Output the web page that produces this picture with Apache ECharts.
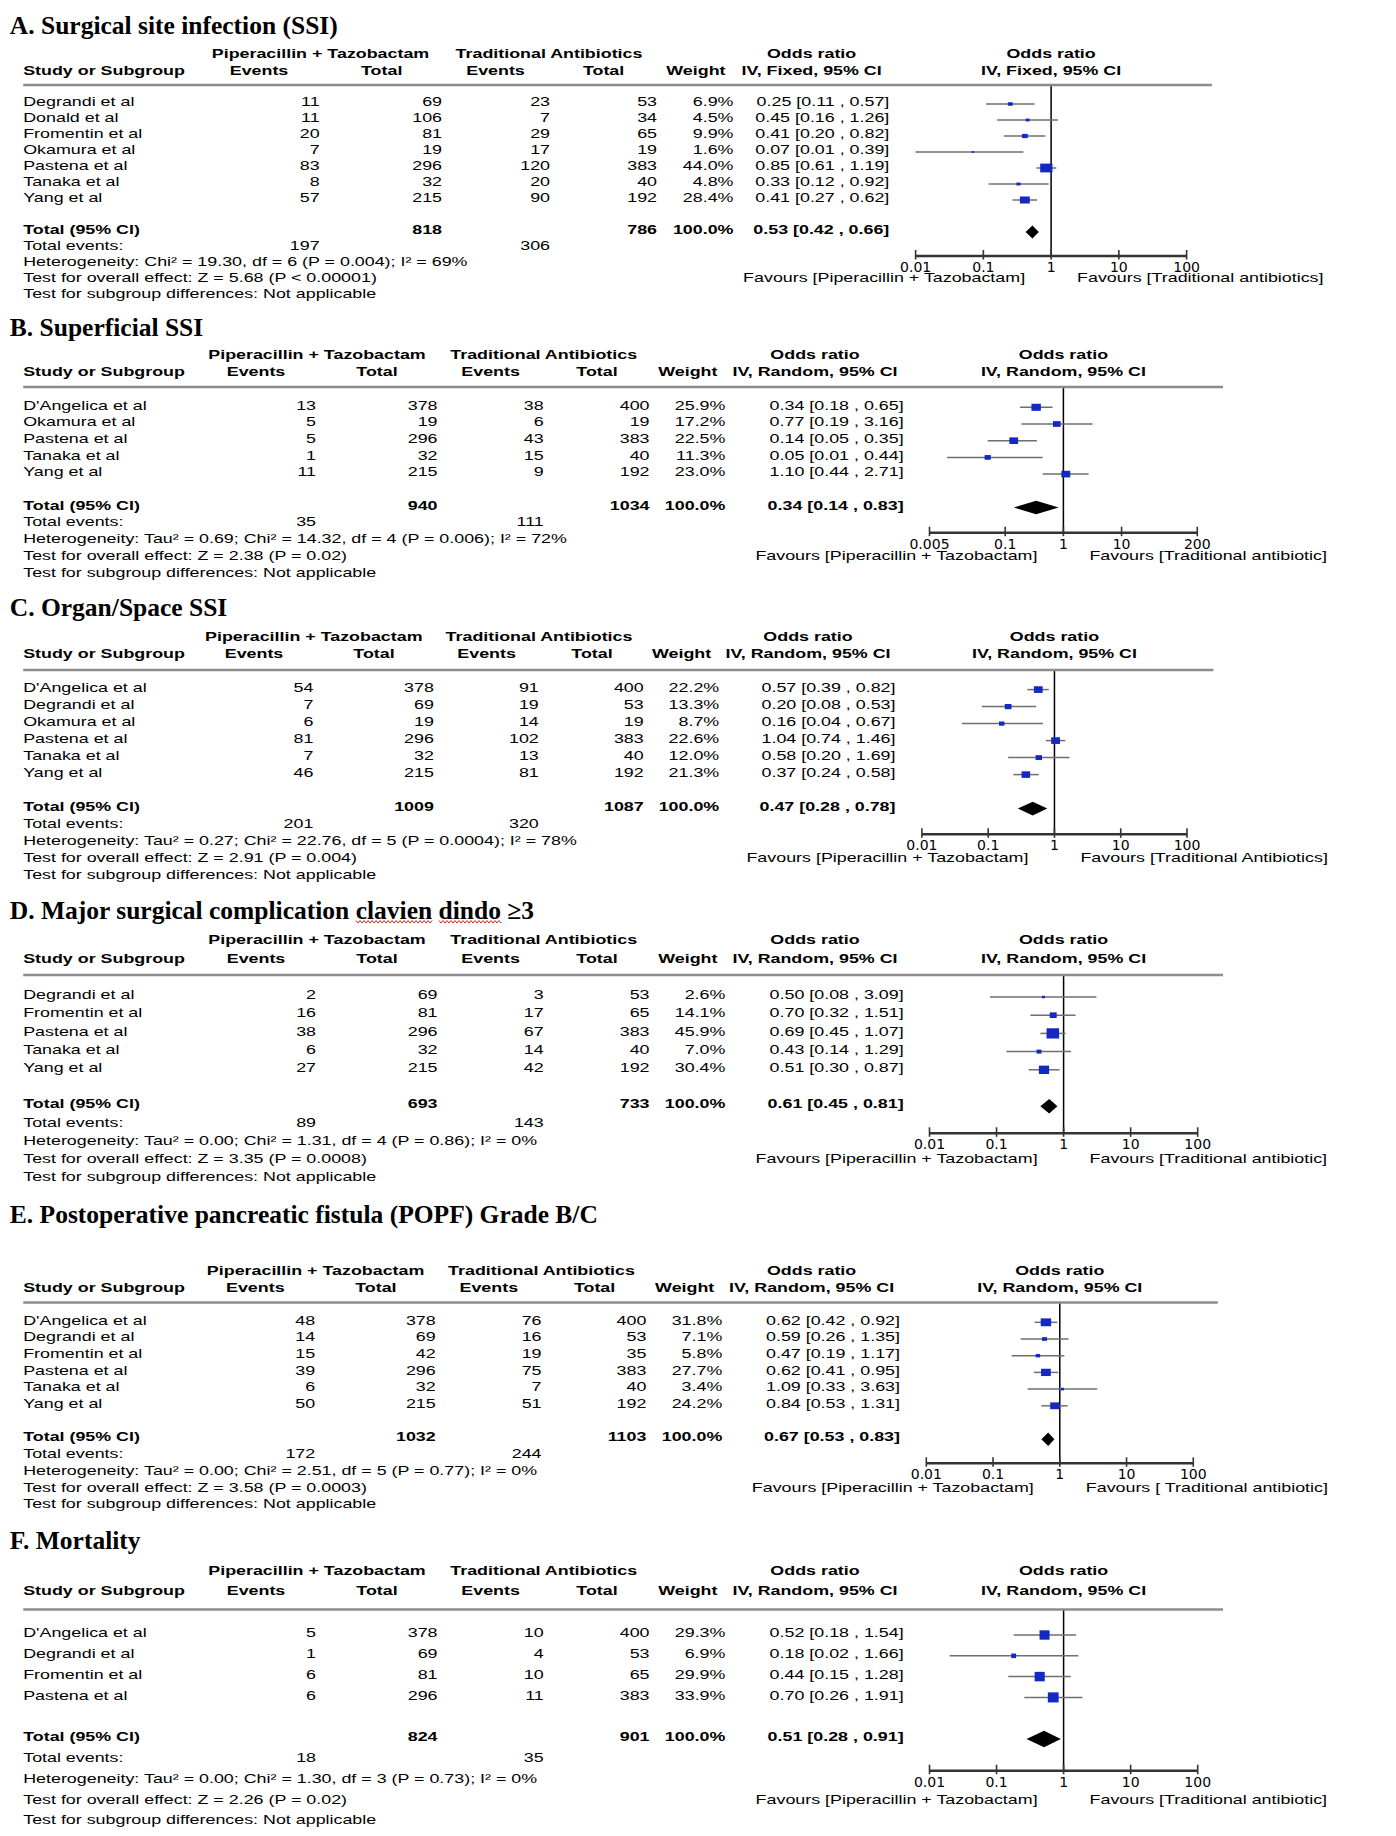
<!DOCTYPE html>
<html><head><meta charset="utf-8">
<script src="https://cdn.jsdelivr.net/npm/echarts@6/dist/echarts.min.js"></script>
<style>html,body{margin:0;padding:0;background:#fff}#c{width:1396px;height:1836px}</style>
</head><body><div id="c"></div>
<script>
// ================= DATA =================
// Panel A
const A_title = 'A. Surgical site infection (SSI)';
const A_studies = ['Degrandi et al','Donald et al','Fromentin et al','Okamura et al','Pastena et al','Tanaka et al','Yang et al'];
const A_pipEvents = [11,11,20,7,83,8,57];
const A_pipTotal = [69,106,81,19,296,32,215];
const A_tradEvents = [23,7,29,17,120,20,90];
const A_tradTotal = [53,34,65,19,383,40,192];
const A_weight = [6.9,4.5,9.9,1.6,44.0,4.8,28.4];
const A_or = [0.25,0.45,0.41,0.07,0.85,0.33,0.41];
const A_lo = [0.11,0.16,0.20,0.01,0.61,0.12,0.27];
const A_hi = [0.57,1.26,0.82,0.39,1.19,0.92,0.62];
const A_totals = [818,786];
const A_totalEvents = [197,306];
const A_pooled = [0.53,0.42,0.66];
const A_method = 'IV, Fixed, 95% CI';
const A_het = 'Heterogeneity: Chi\u00b2 = 19.30, df = 6 (P = 0.004); I\u00b2 = 69%';
const A_effect = 'Test for overall effect: Z = 5.68 (P < 0.00001)';
const A_ticks = [0.01,0.1,1,10,100];
const A_tickLabels = ['0.01','0.1','1','10','100'];
const A_favours = ['Favours [Piperacillin + Tazobactam]','Favours [Traditional antibiotics]'];

// Panel B
const B_title = 'B. Superficial SSI';
const B_studies = ["D'Angelica et al",'Okamura et al','Pastena et al','Tanaka et al','Yang et al'];
const B_pipEvents = [13,5,5,1,11];
const B_pipTotal = [378,19,296,32,215];
const B_tradEvents = [38,6,43,15,9];
const B_tradTotal = [400,19,383,40,192];
const B_weight = [25.9,17.2,22.5,11.3,23.0];
const B_or = [0.34,0.77,0.14,0.05,1.10];
const B_lo = [0.18,0.19,0.05,0.01,0.44];
const B_hi = [0.65,3.16,0.35,0.44,2.71];
const B_totals = [940,1034];
const B_totalEvents = [35,111];
const B_pooled = [0.34,0.14,0.83];
const B_method = 'IV, Random, 95% CI';
const B_het = 'Heterogeneity: Tau\u00b2 = 0.69; Chi\u00b2 = 14.32, df = 4 (P = 0.006); I\u00b2 = 72%';
const B_effect = 'Test for overall effect: Z = 2.38 (P = 0.02)';
const B_ticks = [0.005,0.1,1,10,200];
const B_tickLabels = ['0.005','0.1','1','10','200'];
const B_favours = ['Favours [Piperacillin + Tazobactam]','Favours [Traditional antibiotic]'];

// Panel C
const C_title = 'C. Organ/Space SSI';
const C_studies = ["D'Angelica et al",'Degrandi et al','Okamura et al','Pastena et al','Tanaka et al','Yang et al'];
const C_pipEvents = [54,7,6,81,7,46];
const C_pipTotal = [378,69,19,296,32,215];
const C_tradEvents = [91,19,14,102,13,81];
const C_tradTotal = [400,53,19,383,40,192];
const C_weight = [22.2,13.3,8.7,22.6,12.0,21.3];
const C_or = [0.57,0.20,0.16,1.04,0.58,0.37];
const C_lo = [0.39,0.08,0.04,0.74,0.20,0.24];
const C_hi = [0.82,0.53,0.67,1.46,1.69,0.58];
const C_totals = [1009,1087];
const C_totalEvents = [201,320];
const C_pooled = [0.47,0.28,0.78];
const C_method = 'IV, Random, 95% CI';
const C_het = 'Heterogeneity: Tau\u00b2 = 0.27; Chi\u00b2 = 22.76, df = 5 (P = 0.0004); I\u00b2 = 78%';
const C_effect = 'Test for overall effect: Z = 2.91 (P = 0.004)';
const C_ticks = [0.01,0.1,1,10,100];
const C_tickLabels = ['0.01','0.1','1','10','100'];
const C_favours = ['Favours [Piperacillin + Tazobactam]','Favours [Traditional Antibiotics]'];

// Panel D
const D_title = 'D. Major surgical complication clavien dindo \u22653';
const D_studies = ['Degrandi et al','Fromentin et al','Pastena et al','Tanaka et al','Yang et al'];
const D_pipEvents = [2,16,38,6,27];
const D_pipTotal = [69,81,296,32,215];
const D_tradEvents = [3,17,67,14,42];
const D_tradTotal = [53,65,383,40,192];
const D_weight = [2.6,14.1,45.9,7.0,30.4];
const D_or = [0.50,0.70,0.69,0.43,0.51];
const D_lo = [0.08,0.32,0.45,0.14,0.30];
const D_hi = [3.09,1.51,1.07,1.29,0.87];
const D_totals = [693,733];
const D_totalEvents = [89,143];
const D_pooled = [0.61,0.45,0.81];
const D_method = 'IV, Random, 95% CI';
const D_het = 'Heterogeneity: Tau\u00b2 = 0.00; Chi\u00b2 = 1.31, df = 4 (P = 0.86); I\u00b2 = 0%';
const D_effect = 'Test for overall effect: Z = 3.35 (P = 0.0008)';
const D_ticks = [0.01,0.1,1,10,100];
const D_tickLabels = ['0.01','0.1','1','10','100'];
const D_favours = ['Favours [Piperacillin + Tazobactam]','Favours [Traditional antibiotic]'];

// Panel E
const E_title = 'E. Postoperative pancreatic fistula (POPF) Grade B/C';
const E_studies = ["D'Angelica et al",'Degrandi et al','Fromentin et al','Pastena et al','Tanaka et al','Yang et al'];
const E_pipEvents = [48,14,15,39,6,50];
const E_pipTotal = [378,69,42,296,32,215];
const E_tradEvents = [76,16,19,75,7,51];
const E_tradTotal = [400,53,35,383,40,192];
const E_weight = [31.8,7.1,5.8,27.7,3.4,24.2];
const E_or = [0.62,0.59,0.47,0.62,1.09,0.84];
const E_lo = [0.42,0.26,0.19,0.41,0.33,0.53];
const E_hi = [0.92,1.35,1.17,0.95,3.63,1.31];
const E_totals = [1032,1103];
const E_totalEvents = [172,244];
const E_pooled = [0.67,0.53,0.83];
const E_method = 'IV, Random, 95% CI';
const E_het = 'Heterogeneity: Tau\u00b2 = 0.00; Chi\u00b2 = 2.51, df = 5 (P = 0.77); I\u00b2 = 0%';
const E_effect = 'Test for overall effect: Z = 3.58 (P = 0.0003)';
const E_ticks = [0.01,0.1,1,10,100];
const E_tickLabels = ['0.01','0.1','1','10','100'];
const E_favours = ['Favours [Piperacillin + Tazobactam]','Favours [ Traditional antibiotic]'];

// Panel F
const F_title = 'F. Mortality';
const F_studies = ["D'Angelica et al",'Degrandi et al','Fromentin et al','Pastena et al'];
const F_pipEvents = [5,1,6,6];
const F_pipTotal = [378,69,81,296];
const F_tradEvents = [10,4,10,11];
const F_tradTotal = [400,53,65,383];
const F_weight = [29.3,6.9,29.9,33.9];
const F_or = [0.52,0.18,0.44,0.70];
const F_lo = [0.18,0.02,0.15,0.26];
const F_hi = [1.54,1.66,1.28,1.91];
const F_totals = [824,901];
const F_totalEvents = [18,35];
const F_pooled = [0.51,0.28,0.91];
const F_method = 'IV, Random, 95% CI';
const F_het = 'Heterogeneity: Tau\u00b2 = 0.00; Chi\u00b2 = 1.30, df = 3 (P = 0.73); I\u00b2 = 0%';
const F_effect = 'Test for overall effect: Z = 2.26 (P = 0.02)';
const F_ticks = [0.01,0.1,1,10,100];
const F_tickLabels = ['0.01','0.1','1','10','100'];
const F_favours = ['Favours [Piperacillin + Tazobactam]','Favours [Traditional antibiotic]'];

// shared header texts
const H_groups = ['Piperacillin + Tazobactam','Traditional Antibiotics'];
const H_cols = ['Study or Subgroup','Events','Total','Events','Total','Weight','Odds ratio'];
const T_total = 'Total (95% CI)';
const T_events = 'Total events:';
const T_subgroup = 'Test for subgroup differences: Not applicable';

// ================= LAYOUT (pixels) =================
const COLS_A = {evP:319.6, totP:442, evT:550, totT:657, wR:733.5, ciR:889.3, hPip:320.5, hEv:259, hTot:381.7, hTrad:549, hEv2:495.5, hTot2:603.6, hOr1:811.6};
const COLS_B = {evP:316, totP:437.5, evT:543.7, totT:649.5, wR:725.4, ciR:903.6, hPip:317, hEv:256, hTot:377, hTrad:543.7, hEv2:490.6, hTot2:597, hOr1:815};
const COLS_C = {evP:313.4, totP:433.9, evT:538.8, totT:643.7, wR:719.2, ciR:895.5, hPip:313.8, hEv:254, hTot:374, hTrad:539, hEv2:486.6, hTot2:592, hOr1:808};
const COLS_E = {evP:315.2, totP:435.7, evT:541.5, totT:646.4, wR:722.3, ciR:900, hPip:315.6, hEv:255.3, hTot:375.9, hTrad:541.5, hEv2:488.8, hTot2:594.6, hOr1:811.6};
const LAYOUT = [
  {title:25.7, h1:53.3, h2:70, rule:85, row1:101.7, s:16, axisY:256, axisL:915.6, axisR:1186.6, ruleEnd:1212, cols:COLS_A},
  {title:327.5, h1:354.3, h2:371, rule:387, row1:405, s:16.7, axisY:532.7, axisL:929.5, axisR:1197.3, ruleEnd:1223, cols:COLS_B},
  {title:607.5, h1:636, h2:653.3, rule:670, row1:687.3, s:17, axisY:834.3, axisL:921.9, axisR:1187, ruleEnd:1213.4, cols:COLS_C},
  {title:910.8, h1:939.3, h2:958, rule:975, row1:994.7, s:18.2, axisY:1133.3, axisL:929.5, axisR:1197.7, ruleEnd:1223, cols:COLS_B, squiggle:['clavien','dindo']},
  {title:1214, h1:1270, h2:1287, rule:1302.5, row1:1320, s:16.7, axisY:1463.3, axisL:926.3, axisR:1193.3, ruleEnd:1217.8, cols:COLS_E},
  {title:1540, h1:1570, h2:1590.7, rule:1609.5, row1:1632.7, s:20.8, axisY:1770.7, axisL:929.5, axisR:1197.7, ruleEnd:1223, cols:COLS_B}
];

const panels = [
  {title:A_title, studies:A_studies, pe:A_pipEvents, pt:A_pipTotal, te:A_tradEvents, tt:A_tradTotal, w:A_weight, or:A_or, lo:A_lo, hi:A_hi, totals:A_totals, tev:A_totalEvents, pooled:A_pooled, method:A_method, het:A_het, effect:A_effect, ticks:A_ticks, tickLabels:A_tickLabels, fav:A_favours},
  {title:B_title, studies:B_studies, pe:B_pipEvents, pt:B_pipTotal, te:B_tradEvents, tt:B_tradTotal, w:B_weight, or:B_or, lo:B_lo, hi:B_hi, totals:B_totals, tev:B_totalEvents, pooled:B_pooled, method:B_method, het:B_het, effect:B_effect, ticks:B_ticks, tickLabels:B_tickLabels, fav:B_favours},
  {title:C_title, studies:C_studies, pe:C_pipEvents, pt:C_pipTotal, te:C_tradEvents, tt:C_tradTotal, w:C_weight, or:C_or, lo:C_lo, hi:C_hi, totals:C_totals, tev:C_totalEvents, pooled:C_pooled, method:C_method, het:C_het, effect:C_effect, ticks:C_ticks, tickLabels:C_tickLabels, fav:C_favours},
  {title:D_title, studies:D_studies, pe:D_pipEvents, pt:D_pipTotal, te:D_tradEvents, tt:D_tradTotal, w:D_weight, or:D_or, lo:D_lo, hi:D_hi, totals:D_totals, tev:D_totalEvents, pooled:D_pooled, method:D_method, het:D_het, effect:D_effect, ticks:D_ticks, tickLabels:D_tickLabels, fav:D_favours},
  {title:E_title, studies:E_studies, pe:E_pipEvents, pt:E_pipTotal, te:E_tradEvents, tt:E_tradTotal, w:E_weight, or:E_or, lo:E_lo, hi:E_hi, totals:E_totals, tev:E_totalEvents, pooled:E_pooled, method:E_method, het:E_het, effect:E_effect, ticks:E_ticks, tickLabels:E_tickLabels, fav:E_favours},
  {title:F_title, studies:F_studies, pe:F_pipEvents, pt:F_pipTotal, te:F_tradEvents, tt:F_tradTotal, w:F_weight, or:F_or, lo:F_lo, hi:F_hi, totals:F_totals, tev:F_totalEvents, pooled:F_pooled, method:F_method, het:F_het, effect:F_effect, ticks:F_ticks, tickLabels:F_tickLabels, fav:F_favours}
];

// ================= STYLE =================
const SX = 1.375;
const FS = 13;
const FONT = '"Liberation Sans", Arial, Helvetica, sans-serif';
const TFONT = '"Liberation Serif", "Times New Roman", Times, serif';
const TFS = 25.5;
const STUDY_X = 23.2;
const MARK_OFF = 2.3;
const MK = 1.85;
const ROW0 = 10;          // row index offset on the hidden y axis
const BLUE = '#1428c4';
const AXIS_GREY = '#333333';

function txt(x, y, s, align, bold) {
  return {type:'text', x:x, y:y, scaleX:SX, silent:true, z:10,
    style:{text:s, font:(bold?'bold ':'') + FS + 'px ' + FONT, fill:'#000',
      align:align, verticalAlign:'middle', textAlign:align, textVerticalAlign:'middle'}};
}
function hline(xa, xb, y, color, width) {
  return {type:'rect', silent:true, z:20, shape:{x:xa, y:y - width / 2, width:xb - xa, height:width}, style:{fill:color}};
}
function vline(x, ya, yb, color, width) {
  return {type:'rect', silent:true, z:20, shape:{x:x - width / 2, y:ya, width:width, height:yb - ya}, style:{fill:color}};
}
const fmt2 = v => v.toFixed(2);
const ciText = (o,l,h) => fmt2(o) + ' [' + fmt2(l) + ' , ' + fmt2(h) + ']';

const measureCtx = document.createElement('canvas').getContext('2d');

const graphics = [];
const grids = [], xAxes = [], yAxes = [], series = [];

panels.forEach((p, i) => {
  const L = LAYOUT[i], C = L.cols;
  const n = p.studies.length;
  const lmin = Math.log10(p.ticks[0]), lmax = Math.log10(p.ticks[p.ticks.length-1]);
  const xOf = v => L.axisL + (Math.log10(v) - lmin) / (lmax - lmin) * (L.axisR - L.axisL);
  const x1 = xOf(1);
  const rowY = k => L.row1 + (k - 1) * L.s;

  // Title
  graphics.push({type:'text', x:9.8, y:L.title, silent:true,
    style:{text:p.title, font:'bold ' + TFS + 'px ' + TFONT, fill:'#000', align:'left', verticalAlign:'middle', textAlign:'left', textVerticalAlign:'middle'}});
  if (L.squiggle) {
    measureCtx.font = 'bold ' + TFS + 'px ' + TFONT;
    L.squiggle.forEach(word => {
      const idx = p.title.indexOf(word);
      const xs = 9.8 + measureCtx.measureText(p.title.slice(0, idx)).width;
      const xe = xs + measureCtx.measureText(word).width;
      const pts = [];
      let k = 0;
      for (let x = xs; x <= xe; x += 2, k++) pts.push([x, L.title + 11 + (k % 2 ? 1.3 : -1.3)]);
      graphics.push({type:'polyline', silent:true, shape:{points:pts}, style:{stroke:'#e3211c', lineWidth:1, fill:null}});
    });
  }
  // Headers
  graphics.push(txt(C.hPip, L.h1, H_groups[0], 'center', true));
  graphics.push(txt(C.hTrad, L.h1, H_groups[1], 'center', true));
  graphics.push(txt(C.hOr1, L.h1, H_cols[6], 'center', true));
  graphics.push(txt(x1, L.h1, H_cols[6], 'center', true));
  graphics.push(txt(STUDY_X, L.h2, H_cols[0], 'left', true));
  graphics.push(txt(C.hEv, L.h2, H_cols[1], 'center', true));
  graphics.push(txt(C.hTot, L.h2, H_cols[2], 'center', true));
  graphics.push(txt(C.hEv2, L.h2, H_cols[3], 'center', true));
  graphics.push(txt(C.hTot2, L.h2, H_cols[4], 'center', true));
  graphics.push(txt(C.wR - 8, L.h2, H_cols[5], 'right', true));
  graphics.push(txt(C.hOr1, L.h2, p.method, 'center', true));
  graphics.push(txt(x1, L.h2, p.method, 'center', true));
  graphics.push(hline(STUDY_X, L.ruleEnd, L.rule, '#8c8c8c', 2.5));

  // axis baseline and decade ticks (axis decoration)
  graphics.push(hline(xOf(p.ticks[0]), xOf(p.ticks[p.ticks.length - 1]), L.axisY, AXIS_GREY, 2.5));
  p.ticks.forEach(t => graphics.push(vline(xOf(t), L.axisY - 6, L.axisY + 3.5, AXIS_GREY, 1.6)));

  // Study rows
  for (let k = 0; k < n; k++) {
    const y = rowY(k + 1);
    graphics.push(txt(STUDY_X, y, p.studies[k], 'left', false));
    graphics.push(txt(C.evP, y, String(p.pe[k]), 'right', false));
    graphics.push(txt(C.totP, y, String(p.pt[k]), 'right', false));
    graphics.push(txt(C.evT, y, String(p.te[k]), 'right', false));
    graphics.push(txt(C.totT, y, String(p.tt[k]), 'right', false));
    graphics.push(txt(C.wR, y, p.w[k].toFixed(1) + '%', 'right', false));
    graphics.push(txt(C.ciR, y, ciText(p.or[k], p.lo[k], p.hi[k]), 'right', false));
  }
  // Total rows
  const ty = rowY(n + 2);
  const wSum = p.w.reduce((a, b) => a + b, 0);
  graphics.push(txt(STUDY_X, ty, T_total, 'left', true));
  graphics.push(txt(C.totP, ty, String(p.totals[0]), 'right', true));
  graphics.push(txt(C.totT, ty, String(p.totals[1]), 'right', true));
  graphics.push(txt(C.wR, ty, Math.round(wSum).toFixed(1) + '%', 'right', true));
  graphics.push(txt(C.ciR, ty, ciText(p.pooled[0], p.pooled[1], p.pooled[2]), 'right', true));
  graphics.push(txt(STUDY_X, ty + L.s, T_events, 'left', false));
  graphics.push(txt(C.evP, ty + L.s, String(p.tev[0]), 'right', false));
  graphics.push(txt(C.evT, ty + L.s, String(p.tev[1]), 'right', false));
  graphics.push(txt(STUDY_X, ty + 2 * L.s, p.het, 'left', false));
  graphics.push(txt(STUDY_X, ty + 3 * L.s, p.effect, 'left', false));
  graphics.push(txt(STUDY_X, ty + 4 * L.s, T_subgroup, 'left', false));
  // Favours
  graphics.push(txt(x1 - 26, ty + 3 * L.s, p.fav[0], 'right', false));
  graphics.push(txt(x1 + 26, ty + 3 * L.s, p.fav[1], 'left', false));

  // Plot grid (rows are placed at ROW0 + k on a hidden y axis)
  const r1 = L.row1 + MARK_OFF;
  const yMin = ROW0 + 1 - (r1 - L.rule) / L.s;
  const yMax = ROW0 + 1 + (L.axisY - r1) / L.s;
  grids.push({left:L.axisL, top:L.rule, width:L.axisR - L.axisL, height:L.axisY - L.rule, containLabel:false, outerBoundsMode:'none'});
  const ticks = p.ticks, labels = p.tickLabels;
  xAxes.push({type:'log', logBase:10, gridIndex:i, position:'bottom', min:ticks[0], max:ticks[ticks.length-1],
    axisLine:{show:false}, axisTick:{show:false},
    minorTick:{show:false}, splitLine:{show:false},
    axisLabel:{show:true, customValues:ticks, margin:4, color:'#000', fontSize:14, fontFamily:'"DejaVu Sans", sans-serif',
      showMinLabel:true, showMaxLabel:true,
      formatter: v => { const j = ticks.findIndex(t => Math.abs(Math.log10(t) - Math.log10(v)) < 1e-6); return j >= 0 ? labels[j] : ''; }}
  });
  yAxes.push({type:'value', gridIndex:i, inverse:true, min:yMin, max:yMax, show:false});

  // reference line at OR = 1
  series.push({type:'line', xAxisIndex:i, yAxisIndex:i, data:[[1, yMin], [1, yMax]], symbol:'none', silent:true, z:1,
    lineStyle:{color:'#000', width:1.5}});
  // study CIs and weight boxes
  const hRatio = 0.045 * L.s;
  series.push({type:'custom', xAxisIndex:i, yAxisIndex:i, z:3, silent:true,
    encode:{x:[0,1,2], y:3},
    data:p.studies.map((_, k) => [p.lo[k], p.hi[k], p.or[k], ROW0 + k + 1, p.w[k]]),
    renderItem:(params, api) => {
      const a = api.coord([api.value(0), api.value(3)]);
      const b = api.coord([api.value(1), api.value(3)]);
      const c = api.coord([api.value(2), api.value(3)]);
      const w = MK * Math.sqrt(api.value(4));
      const h = w * hRatio;
      return {type:'group', children:[
        {type:'line', shape:{x1:a[0], y1:a[1], x2:b[0], y2:b[1]}, style:{stroke:'#6f6f6f', lineWidth:1.5}},
        {type:'rect', shape:{x:c[0] - w/2, y:c[1] - h/2, width:w, height:h}, style:{fill:BLUE}}
      ]};
    }});
  // pooled diamond
  series.push({type:'custom', xAxisIndex:i, yAxisIndex:i, z:3, silent:true,
    encode:{x:[0,1,2], y:3},
    data:[[p.pooled[1], p.pooled[2], p.pooled[0], ROW0 + n + 2]],
    renderItem:(params, api) => {
      const a = api.coord([api.value(0), api.value(3)]);
      const b = api.coord([api.value(1), api.value(3)]);
      const c = api.coord([api.value(2), api.value(3)]);
      const t = api.coord([api.value(2), api.value(3) - 0.4]);
      const hh = Math.abs(c[1] - t[1]);
      return {type:'polygon', shape:{points:[[a[0], c[1]], [c[0], c[1] - hh], [b[0], c[1]], [c[0], c[1] + hh]]},
        style:{fill:'#000'}};
    }});
});

const chart = echarts.init(document.getElementById('c'), null, {renderer:'svg'});
chart.setOption({
  animation:false,
  backgroundColor:'#fff',
  grid:grids, xAxis:xAxes, yAxis:yAxes, series:series,
  graphic:{elements:graphics}
});
</script>
</body></html>
